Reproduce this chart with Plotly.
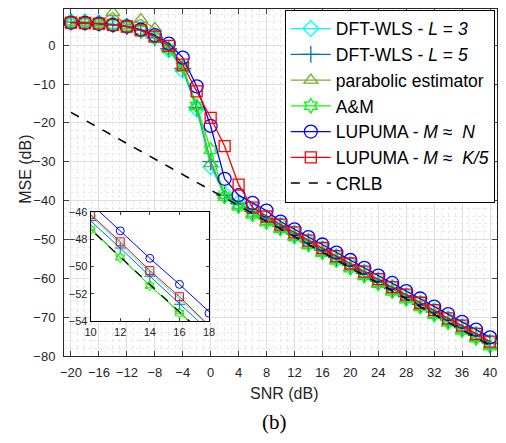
import plotly.graph_objects as go

snr = [-20, -18, -16, -14, -12, -10, -8, -6, -4, -2, 0, 2, 4, 6, 8, 10, 12, 14, 16, 18,
       20, 22, 24, 26, 28, 30, 32, 34, 36, 38, 40]

dft_l3 = [6.1, 6.0, 5.8, 5.5, 4.9, 3.9, 2.0, -1.2, -6.5, -16.5, -31.3, -38.3, -40.6, -42.5,
          -44.4, -46.3, -48.35, -50.45, -52.35, -54.4, -56.35, -58.4, -60.35, -62.3, -64.4,
          -66.35, -68.3, -70.4, -72.35, -74.3, -76.4]
dft_l5 = [5.9, 5.8, 5.6, 5.3, 4.8, 3.8, 1.9, -0.9, -6.0, -16.0, -30.0, -38.6, -40.8, -42.8,
          -44.7, -46.65, -48.65, -50.7, -52.75, -54.7, -56.7, -58.7, -60.7, -62.65, -64.7,
          -66.7, -68.7, -70.7, -72.7, -74.7, -76.7]
parabolic = [6.0, 6.0, 5.8, 8.4, 5.0, 6.6, 4.3, -0.8, -6.0, -15.5, -30.5, -38.7, -41.3, -43.4,
             -45.4, -47.2, -49.3, -51.4, -53.3, -55.3, -57.3, -59.3, -61.3, -63.3, -65.3,
             -67.3, -69.3, -71.3, -73.3, -75.3, -77.3]
am = [5.9, 5.8, 5.6, 5.3, 4.8, 3.8, 1.9, -1.0, -5.5, -15.7, -26.9, -39.0, -41.5, -43.6,
      -45.6, -47.3, -49.35, -51.4, -53.4, -55.4, -57.4, -59.4, -61.4, -63.4, -65.4,
      -67.4, -69.4, -71.4, -73.4, -75.4, -77.5]
lupuma_n = [5.8, 5.7, 5.5, 5.2, 4.8, 4.0, 2.6, 0.4, -3.2, -10.6, -20.8, -34.4, -38.6, -40.6,
            -42.6, -45.4, -47.4, -49.4, -51.3, -53.4, -55.3, -57.3, -59.3, -61.2, -63.3,
            -65.2, -67.3, -69.2, -71.2, -73.2, -75.2]
lupuma_k5 = [5.8, 5.7, 5.5, 5.2, 4.8, 3.8, 2.2, -0.2, -5.0, -11.9, -18.7, -26.0, -35.9, -41.8,
             -44.1, -46.2, -48.2, -50.3, -52.2, -54.3, -56.2, -58.3, -60.2, -62.3, -64.2,
             -66.3, -68.2, -70.3, -72.2, -74.3, -76.3]
crlb = [-17.3, -19.3, -21.3, -23.3, -25.3, -27.3, -29.3, -31.3, -33.3, -35.3, -37.3, -39.3,
        -41.3, -43.3, -45.3, -47.3, -49.3, -51.3, -53.3, -55.3, -57.3, -59.3, -61.3, -63.3,
        -65.3, -67.3, -69.3, -71.3, -73.3, -75.3, -77.3]

x_ticks = list(range(-20, 41, 4))
y_ticks = list(range(-80, 1, 10))
inset_x_ticks = [10, 12, 14, 16, 18]
inset_y_ticks = [-54, -52, -50, -48, -46]

names = ["DFT-WLS - <i>L</i> = <i>3</i>", "DFT-WLS - <i>L</i> = <i>5</i>",
         "parabolic estimator", "A&M", "LUPUMA - <i>M</i> ≈  <i>N</i>",
         "LUPUMA - <i>M</i> ≈  <i>K/5</i>", "CRLB"]

series = [
    (dft_l3, "#00FFFF", "diamond-open", 12, 8),
    (dft_l5, "#0072BD", "cross-thin-open", 12, 8),
    (parabolic, "#77AC30", "triangle-up-open", 12, 8),
    (am, "#00FF00", "hexagram-open", 11, 8),
    (lupuma_n, "#0000FF", "circle-open", 13, 8),
    (lupuma_k5, "#FF0000", "square-open", 11, 8),
]

fig = go.Figure()
for (vals, col, sym, ms, ims), nm in zip(series, names):
    fig.add_trace(go.Scatter(
        x=snr, y=vals, mode="lines+markers", name=nm,
        line=dict(color=col, width=1.3),
        marker=dict(symbol=sym, size=ms, color=col, line=dict(color=col, width=1.3)),
        xaxis="x", yaxis="y"))
fig.add_trace(go.Scatter(x=snr, y=crlb, mode="lines", name=names[6],
                         line=dict(color="black", width=1.5, dash="dash"),
                         xaxis="x", yaxis="y"))

# inset
fig.add_trace(go.Scatter(x=[10, 18, 18, 10, 10], y=[-54, -54, -46, -46, -54],
                         fill="toself", fillcolor="white", mode="lines",
                         line=dict(width=0, color="white"), showlegend=False,
                         hoverinfo="skip", xaxis="x2", yaxis="y2"))
for (vals, col, sym, ms, ims), nm in zip(series, names):
    fig.add_trace(go.Scatter(
        x=snr, y=vals, mode="lines+markers", showlegend=False,
        line=dict(color=col, width=1),
        marker=dict(symbol=sym, size=ims, color=col, line=dict(color=col, width=1)),
        xaxis="x2", yaxis="y2"))
fig.add_trace(go.Scatter(x=snr, y=crlb, mode="lines", showlegend=False,
                         line=dict(color="black", width=1.2, dash="dash"),
                         xaxis="x2", yaxis="y2"))

axcol = "#262626"
grid = "#dedede"
fig.update_layout(
    width=506, height=443, autosize=False,
    margin=dict(l=64, r=3, t=5, b=87),
    paper_bgcolor="white", plot_bgcolor="white",
    font=dict(family="Liberation Sans, Arial", size=13, color=axcol),
    xaxis=dict(range=[-21, 41], tickvals=x_ticks, ticks="inside", ticklen=5,
               showline=True, linecolor=axcol, linewidth=1, mirror="ticks",
               showgrid=True, gridcolor=grid, gridwidth=1, zeroline=False,
               ticklabelstandoff=4, ticklabeloverflow="allow",
               minor=dict(dtick=1, showgrid=True, gridcolor="#e8e8e8", griddash="dot")),
    yaxis=dict(range=[-80, 9.3], tickvals=y_ticks, ticks="inside", ticklen=5,
               showline=True, linecolor=axcol, linewidth=1, mirror="ticks",
               showgrid=True, gridcolor=grid, gridwidth=1, zeroline=False,
               ticklabelstandoff=5,
               minor=dict(dtick=2, showgrid=True, gridcolor="#e8e8e8", griddash="dot")),
    xaxis2=dict(domain=[0.0615, 0.335], anchor="y2", range=[10, 18],
                tickvals=inset_x_ticks, ticks="inside", ticklen=3,
                showline=True, linecolor="black", linewidth=1, mirror="ticks",
                showgrid=False, zeroline=False, tickfont=dict(size=11)),
    yaxis2=dict(domain=[0.0997, 0.416], anchor="x2", range=[-54, -46],
                tickvals=inset_y_ticks, ticks="inside", ticklen=3,
                showline=True, linecolor="black", linewidth=1, mirror="ticks",
                showgrid=False, zeroline=False, tickfont=dict(size=11)),
    legend=dict(x=0.995, y=0.998, xanchor="right", yanchor="top",
                bgcolor="white", bordercolor="black", borderwidth=1,
                font=dict(size=17.5, color="black"), tracegroupgap=0, itemwidth=40),
    showlegend=True,
    annotations=[
        dict(text="SNR (dB)", x=0.508, y=-0.108, xref="paper", yref="paper",
             showarrow=False, font=dict(size=16, color=axcol), xanchor="center", yanchor="middle"),
        dict(text="MSE (dB)", x=-0.0888, y=0.538, xref="paper", yref="paper",
             showarrow=False, textangle=-90, font=dict(size=16, color=axcol),
             xanchor="center", yanchor="middle"),
        dict(text="(b)", x=0.485, y=-0.191, xref="paper", yref="paper",
             showarrow=False, font=dict(size=21, color="black", family="Liberation Serif, Times New Roman"),
             xanchor="center", yanchor="middle"),
    ],
)

fig.write_html("out.html", config={"displayModeBar": False},
               post_script="document.body.style.margin='0px';")
